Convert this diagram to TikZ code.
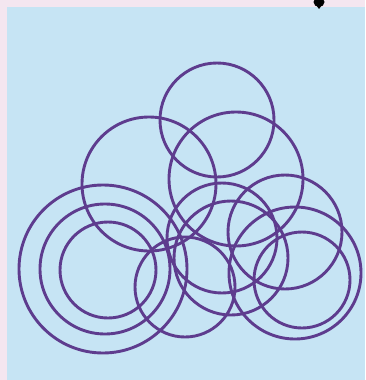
\documentclass[tikz,border=0pt]{standalone}
\usepackage{tikz}
\definecolor{bgblue}{HTML}{C6E4F4}
\definecolor{bgpink}{HTML}{F4E6F0}
\definecolor{ring}{HTML}{5E3C8E}
\begin{document}
\begin{tikzpicture}[x=1pt,y=-1pt,
  ringline/.style={draw=ring,line width=2.9pt}]
\useasboundingbox (0,0) rectangle (365,380);
\fill[bgpink] (0,0) rectangle (365,380);
\fill[bgblue] (7,7) rectangle (365,380);
% pin
\fill[black] (319,2) ellipse (5.5 and 5);
\fill[black] (316,5) -- (322,5) -- (319,9) -- cycle;
% circles
\draw[ringline] (217,120) circle (57);   % A top
\draw[ringline] (149,184) circle (67);   % B
\draw[ringline] (236,179) circle (67);   % C
\draw[ringline] (103,269) circle (84);   % left outer
\draw[ringline] (105,269) circle (65);   % left middle
\draw[ringline] (108,270) circle (48);   % left inner
\draw[ringline] (222,238) circle (55);   % D
\draw[ringline] (231,258) circle (57);   % E
\draw[ringline] (285,232) circle (57);   % F
\draw[ringline] (295,273) circle (66);   % H
\draw[ringline] (302,280) circle (48);   % I
\draw[ringline] (185,287) circle (50);   % J
\end{tikzpicture}
\end{document}
